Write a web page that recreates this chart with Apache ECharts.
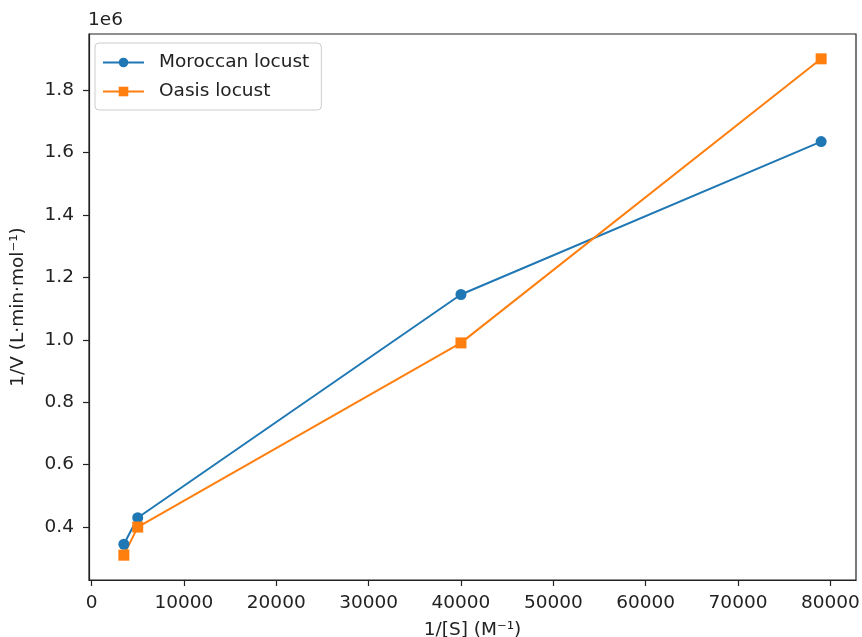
<!DOCTYPE html>
<html>
<head>
<meta charset="utf-8">
<script src="https://cdn.jsdelivr.net/npm/echarts@6/dist/echarts.min.js"></script>
<style>html,body{margin:0;padding:0;background:#fff;}#c{width:862px;height:637px;}</style>
</head>
<body>
<div id="c"></div>
<script>
const xValues = [3500, 5000, 40000, 79000];
const moroccan = [0.345, 0.43, 1.145, 1.635];
const oasis = [0.31, 0.40, 0.99, 1.90];
const xTicks = [0, 10000, 20000, 30000, 40000, 50000, 60000, 70000, 80000];
const yTicks = [0.4, 0.6, 0.8, 1.0, 1.2, 1.4, 1.6, 1.8];
const seriesNames = ['Moroccan locust', 'Oasis locust'];

const FONT = 'DejaVu Sans';
const FS = 18.5;
const chart = echarts.init(document.getElementById('c'));
chart.setOption({
  animation: false,
  backgroundColor: '#fff',
  textStyle: { fontFamily: FONT },
  grid: { left: 89, right: 6, top: 34, bottom: 57, show: true, outerBoundsMode: 'none', containLabel: false,
          borderColor: '#222', borderWidth: 1.2, backgroundColor: 'transparent' },
  graphic: [{ type: 'text', left: 88, top: 11, style: { text: '1e6', font: FS + 'px "DejaVu Sans"', fill: '#222' } }],
  legend: {
    left: 95, top: 43, orient: 'vertical',
    data: seriesNames,
    itemWidth: 41, itemHeight: 12, itemGap: 10,
    padding: [10, 12, 9, 7],
    borderColor: '#ccc', borderWidth: 1, borderRadius: 4,
    backgroundColor: 'rgba(255,255,255,0.8)',
    textStyle: { fontFamily: FONT, fontSize: FS, color: '#222', padding: [0, 0, 0, 10] }
  },
  xAxis: {
    type: 'value', min: -275, max: 82775,
    name: '1/[S] (M⁻¹)', nameLocation: 'middle', nameGap: 41,
    nameTextStyle: { fontFamily: FONT, fontSize: FS, color: '#222' },
    axisLine: { show: true, onZero: false, lineStyle: { color: '#222', width: 1.2 } },
    axisTick: { show: true, length: 6, customValues: xTicks, lineStyle: { color: '#222', width: 1.2 } },
    axisLabel: { customValues: xTicks, margin: 14, fontFamily: FONT, fontSize: FS, color: '#222', formatter: v => String(v) },
    splitLine: { show: false }
  },
  yAxis: {
    type: 'value', min: 0.2305, max: 1.9795,
    name: '1/V (L·min·mol⁻¹)', nameLocation: 'middle', nameGap: 61,
    nameTextStyle: { fontFamily: FONT, fontSize: FS, color: '#222' },
    axisLine: { show: true, onZero: false, lineStyle: { color: '#222', width: 1.2 } },
    axisTick: { show: true, length: 6, customValues: yTicks, lineStyle: { color: '#222', width: 1.2 } },
    axisLabel: { customValues: yTicks, margin: 15, fontFamily: FONT, fontSize: FS, color: '#222', formatter: v => v.toFixed(1) },
    splitLine: { show: false }
  },
  series: [
    { name: seriesNames[0], type: 'line', data: xValues.map((x, i) => [x, moroccan[i]]), symbol: 'circle', symbolSize: 11,
      itemStyle: { color: '#1f77b4' }, lineStyle: { color: '#1f77b4', width: 2 } },
    { name: seriesNames[1], type: 'line', data: xValues.map((x, i) => [x, oasis[i]]), symbol: 'rect', symbolSize: 11,
      itemStyle: { color: '#ff7f0e' }, lineStyle: { color: '#ff7f0e', width: 2 } }
  ]
});
</script>
</body>
</html>
